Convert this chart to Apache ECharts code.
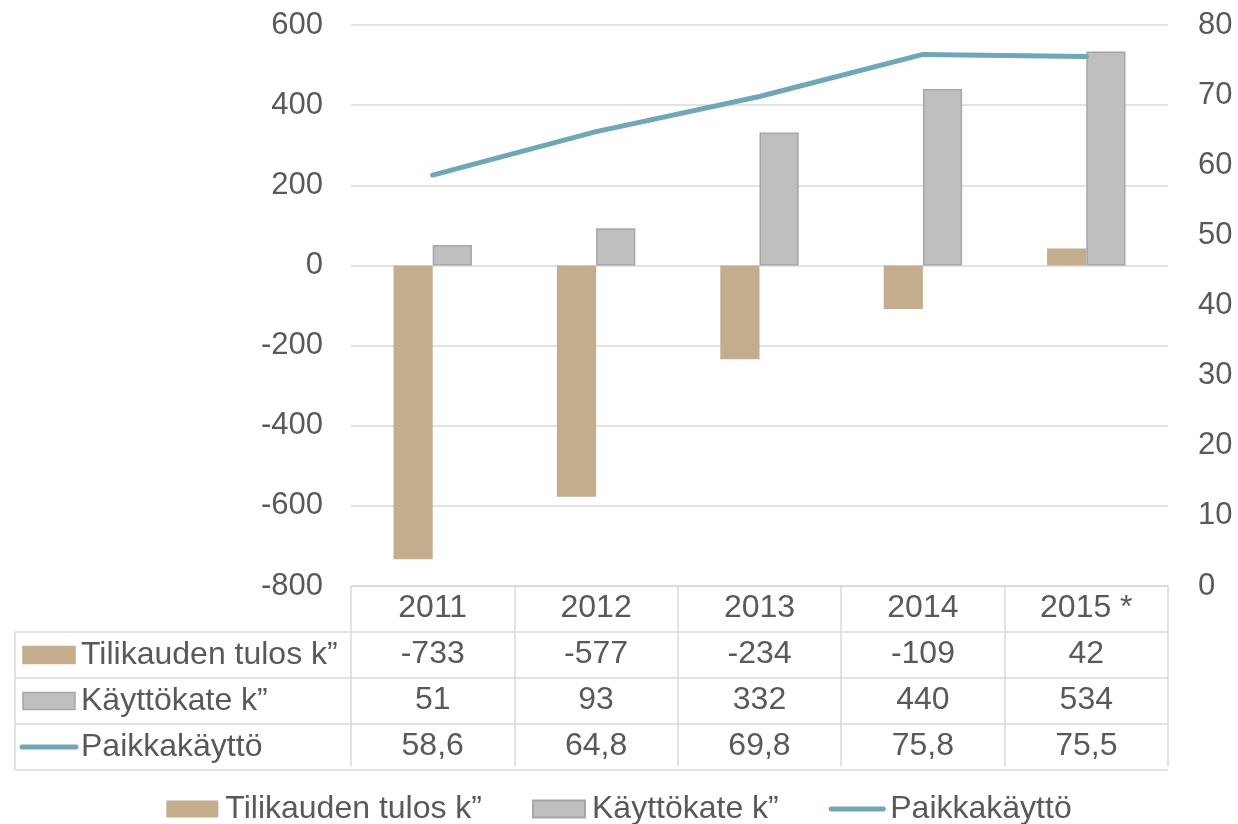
<!doctype html>
<html>
<head>
<meta charset="utf-8">
<title>Tilikauden tulos, käyttökate ja paikkakäyttö</title>
<script src="https://cdn.jsdelivr.net/npm/echarts@6/dist/echarts.min.js"></script>
<style>
  html, body { margin: 0; padding: 0; background: #fff; }
</style>
</head>
<body>
<div id="chart" style="width: 1238px; height: 824px;"></div>
<script type="text/javascript">

    var years = ['2011', '2012', '2013', '2014', '2015 *'];
    var tulos = [-733, -577, -234, -109, 42];
    var kate = [51, 93, 332, 440, 534];
    var paikka = [58.6, 64.8, 69.8, 75.8, 75.5];
    var seriesNames = ['Tilikauden tulos k\u201d', 'K\u00e4ytt\u00f6kate k\u201d', 'Paikkak\u00e4ytt\u00f6'];

    var leftMin = -800, leftMax = 600, leftStep = 200;
    var rightMin = 0, rightMax = 80, rightStep = 10;

    var font = 'Liberation Sans, Arial, sans-serif';
    var textColor = '#595959';
    var gridColor = '#d9d9d9';
    var colors = ['#c4ad8d', '#bfbfbf', '#6ea7b7'];

    // layout of plot + data table
    var gLeft = 351, gRight = 1168, gTop = 25, gBottom = 586;
    var rowH = 46, tableLeft = 15;

    function fmt(v, decimals) {
        return (decimals ? v.toFixed(decimals) : String(v)).replace('.', ',');
    }

    var myChart = echarts.init(document.getElementById('chart'));

    // table rows below the category row
    var rows = [
        { name: seriesNames[0], values: tulos.map(function (v) { return fmt(v); }), key: 'bar', color: colors[0], border: colors[0] },
        { name: seriesNames[1], values: kate.map(function (v) { return fmt(v); }), key: 'bar', color: colors[1], border: '#a6a6a6' },
        { name: seriesNames[2], values: paikka.map(function (v) { return fmt(v, 1); }), key: 'line', color: colors[2] }
    ];

    var graphics = [];
    // horizontal table lines
    for (var r = 1; r <= rows.length + 1; r++) {
        var y = gBottom + r * rowH;
        graphics.push({
            type: 'line',
            shape: { x1: tableLeft, y1: y, x2: gRight, y2: y },
            style: { stroke: gridColor, lineWidth: 1.5 }
        });
    }
    graphics.push({
        type: 'line',
        shape: { x1: tableLeft, y1: gBottom + rowH, x2: tableLeft, y2: gBottom + (rows.length + 1) * rowH },
        style: { stroke: gridColor, lineWidth: 1.5 }
    });
    rows.forEach(function (row, i) {
        var cy = gBottom + (i + 1) * rowH + rowH / 2;
        if (row.key === 'bar') {
            graphics.push({
                type: 'rect',
                shape: { x: 23, y: cy - 8.5, width: 52, height: 17 },
                style: { fill: row.color, stroke: row.border, lineWidth: 1.5 }
            });
        } else {
            graphics.push({
                type: 'line',
                shape: { x1: 22, y1: cy, x2: 76, y2: cy },
                style: { stroke: row.color, lineWidth: 5, lineCap: 'round' }
            });
        }
        graphics.push({
            type: 'text',
            x: 81, y: cy,
            style: { text: row.name, fill: textColor, font: '32px ' + font, verticalAlign: 'middle', align: 'left' }
        });
    });

    var option = {
        animation: false,
        textStyle: { fontFamily: font },
        grid: {
            left: gLeft, right: 1238 - gRight, top: gTop, bottom: 824 - gBottom,
            containLabel: false,
            outerBoundsMode: 'none'
        },
        legend: {
            top: 788,
            left: 'center',
            itemWidth: 52,
            itemHeight: 17,
            itemGap: 50,
            textStyle: { color: textColor, fontSize: 32, fontFamily: font, padding: [0, 0, 0, 2] },
            data: [
                { name: seriesNames[0], icon: 'rect' },
                { name: seriesNames[1], icon: 'rect' },
                { name: seriesNames[2], itemStyle: { opacity: 0 }, lineStyle: { width: 5, cap: 'round' } }
            ]
        },
        xAxis: {
            type: 'category',
            data: years,
            position: 'bottom',
            axisLine: { onZero: false, lineStyle: { color: gridColor, width: 1.5 } },
            axisTick: { show: true, interval: 0, length: rowH * (rows.length + 1) - 4, lineStyle: { color: gridColor, width: 1.5 } },
            axisLabel: {
                interval: 0,
                margin: -1,
                color: textColor,
                fontSize: 32,
                lineHeight: rowH,
                verticalAlign: 'top',
                formatter: function (value, idx) {
                    return [value].concat(rows.map(function (row) { return row.values[idx]; })).join('\n');
                }
            },
            splitLine: { show: false }
        },
        yAxis: [
            {
                type: 'value',
                min: leftMin, max: leftMax, interval: leftStep,
                axisLine: { show: false },
                axisTick: { show: false },
                axisLabel: { color: textColor, fontSize: 31, margin: 28 },
                splitLine: { lineStyle: { color: gridColor, width: 1.5 } }
            },
            {
                type: 'value',
                min: rightMin, max: rightMax, interval: rightStep,
                axisLine: { show: false },
                axisTick: { show: false },
                axisLabel: { color: textColor, fontSize: 31, margin: 30 },
                splitLine: { show: false }
            }
        ],
        series: [
            {
                name: seriesNames[0],
                type: 'bar',
                data: tulos,
                barWidth: '24%',
                barGap: '0%',
                itemStyle: { color: colors[0] }
            },
            {
                name: seriesNames[1],
                type: 'bar',
                data: kate,
                barWidth: '24%',
                barGap: '0%',
                itemStyle: { color: colors[1], borderColor: '#a6a6a6', borderWidth: 1.5 }
            },
            {
                name: seriesNames[2],
                type: 'line',
                yAxisIndex: 1,
                data: paikka,
                symbol: 'none',
                lineStyle: { color: colors[2], width: 5, cap: 'round' },
                itemStyle: { color: colors[2] }
            }
        ],
        graphic: graphics
    };

    myChart.setOption(option);

</script>
</body>
</html>
